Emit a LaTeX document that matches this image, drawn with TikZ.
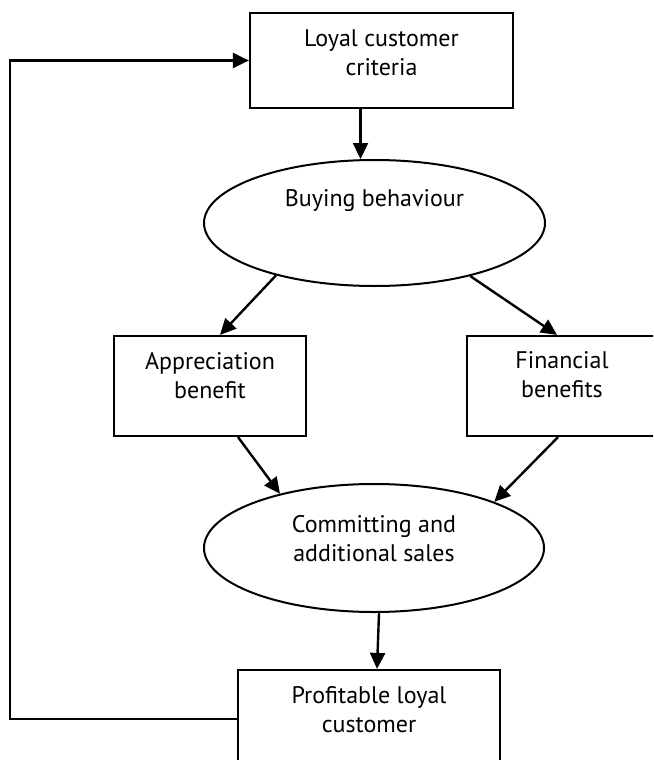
\documentclass[tikz,border=0pt]{standalone}
\usepackage{fontspec}
\setmainfont{PT Sans}
\usetikzlibrary{arrows.meta,shapes.geometric}
\begin{document}
\begin{tikzpicture}[x=1pt,y=-1pt,
  box/.style={draw,line width=2.2pt,rectangle,inner sep=0pt},
  oval/.style={draw,line width=2pt,ellipse,inner sep=0pt},
  txt/.style={align=center,font=\fontsize{24}{29}\selectfont,inner sep=0pt},
  arr/.style={line width=2.4pt,-{Triangle[length=16pt,width=15pt]}}]
\useasboundingbox (0,0) rectangle (653,760);
\clip (0,0) rectangle (653,760);
% boxes
\node[box,minimum width=263pt,minimum height=95pt] (top) at (381.5,60.5) {};
\node[txt] (toptxt) at (381.5,53) {Loyal customer\\criteria};
\node[oval,minimum width=341pt,minimum height=126pt] (ell1) at (374.5,223) {};
\node[txt] (ell1txt) at (374.5,201) {Buying behaviour};
\node[box,minimum width=192pt,minimum height=100pt] (lbox) at (210,386) {};
\node[txt] (lboxtxt) at (210,376) {Appreciation\\benefit};
\node[box,minimum width=192pt,minimum height=100pt] (rbox) at (563,386) {};
\node[txt] (rboxtxt) at (562,375) {Financial\\benefits};
\node[oval,minimum width=340pt,minimum height=128pt] (ell2) at (374,548) {};
\node[txt] (ell2txt) at (374,539) {Committing and\\additional sales};
\node[box,minimum width=262pt,minimum height=98pt] (bot) at (369,719) {};
\node[txt] (bottxt) at (369,709.5) {Profitable loyal\\customer};
\coordinate (fbx) at (10,400);
% connectors
\draw[arr] ([xshift=-21pt]top.south) -- ([xshift=-14pt]ell1.north);
\draw[arr] (ell1.208) -- ([xshift=10pt]lbox.north);
\draw[arr] (ell1.331) -- ([xshift=-6pt]rbox.north);
\draw[arr] ([xshift=28pt]lbox.south) -- (ell2.150);
\draw[arr] ([xshift=-5pt]rbox.south) -- (ell2.21);
\draw[arr] ([xshift=5pt]ell2.south) -- ([xshift=8pt]bot.north);
\draw[arr] (bot.west) -| (fbx) |- (top.west);
\end{tikzpicture}
\end{document}
